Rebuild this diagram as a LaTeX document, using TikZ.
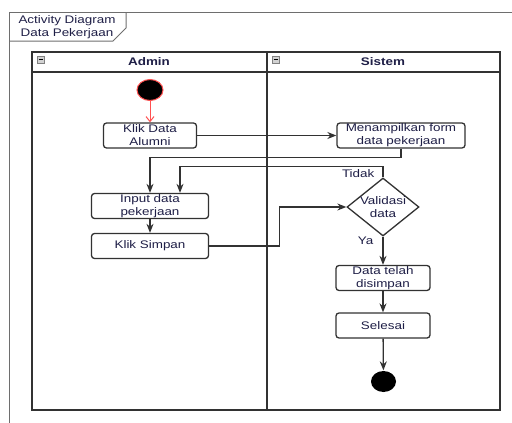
\documentclass[tikz,border=0pt]{standalone}
\usepackage{fontspec}
\setmainfont[FakeStretch=1.22]{Liberation Sans}
\usetikzlibrary{arrows.meta,shapes.geometric}

\definecolor{garis}{RGB}{50,50,50}
\definecolor{bingkai}{RGB}{110,110,110}
\definecolor{teks}{RGB}{30,30,70}
\definecolor{merah}{RGB}{255,80,80}

\begin{document}
\begin{tikzpicture}[x=1pt,y=-1pt,>={Stealth[length=9pt,width=7pt]},font=\fontsize{11}{13}\selectfont,line width=1.3pt]
        \tikzstyle{aksi}=[draw=garis,fill=white,rounded corners=3pt,minimum height=25pt,inner sep=0pt,align=center,text=teks]
        \tikzstyle{panah}=[->,draw=garis]
        \tikzstyle{titik}=[ellipse,fill=black,inner sep=0pt]
        \tikzstyle{lbl}=[text=teks,inner sep=0pt]
        \useasboundingbox (0,0) rectangle (512,423);

        % frame dan tab judul
        \draw[bingkai,line width=1pt] (9,423) -- (9,12) -- (512,12);
        \draw[bingkai,line width=1pt] (9,41) -- (113,41) -- (126,28) -- (126,12);
        \node[lbl,align=center,font=\fontsize{11}{13}\selectfont] (judul) at (67,27) {Activity Diagram\\Data Pekerjaan};

        % swimlane
        \draw[garis,line width=1.4pt] (32,52) rectangle (500,410);
        \draw[garis,line width=1.4pt] (32,72) -- (500,72);
        \draw[garis,line width=1.4pt] (267,52) -- (267,410);
        \node[lbl,font=\fontsize{11}{13}\bfseries] (admin) at (149,62) {Admin};
        \node[lbl,font=\fontsize{11}{13}\bfseries] (sistem) at (383,62) {Sistem};
        \foreach \x in {37,272}{
            \draw[gray,fill=gray!35,line width=0.6pt] (\x,56) rectangle (\x+7,63);
            \draw[black,line width=0.9pt] (\x+1.5,59.5) -- (\x+5.5,59.5);
        }

        % node aktivitas
        \node[titik,draw=merah,line width=1pt,minimum width=26pt,minimum height=21pt] (mulai) at (150,90) {};
        \node[aksi,minimum width=93pt] (klik) at (150,135.5) {Klik Data\\Alumni};
        \node[aksi,minimum width=128pt] (tampil) at (401,135.5) {Menampilkan form\\data pekerjaan};
        \node[aksi,minimum width=117pt] (input) at (150,206) {Input data\\pekerjaan};
        \node[aksi,minimum width=117pt] (simpan) at (150,246) {Klik Simpan};
        \node[diamond,draw=garis,fill=white,minimum width=72pt,minimum height=58pt,inner sep=0pt,
              label={[lbl,align=center]center:Validasi\\data}] (validasi) at (383,207) {};
        \node[aksi,minimum width=94pt] (disimpan) at (383,278) {Data telah\\disimpan};
        \node[aksi,minimum width=94pt] (selesai) at (383,325.5) {Selesai};
        \node[titik,minimum width=25pt,minimum height=21pt] (akhir) at (383.5,381.5) {};

        % alur
        \draw[->,merah,line width=1pt,>={Straight Barb[length=5pt,width=8pt]}] (mulai) -- (klik);
        \draw[panah] (klik) -- (tampil);
        \draw[panah] (tampil.south) -- ++(0,9) -| (input.north);
        \draw[panah] (validasi.north) -- node[lbl,pos=0.3,left=8pt] {Tidak} ++(0,-11) -| ([xshift=30pt]input.north);
        \draw[panah] (input) -- (simpan);
        \draw[panah] (simpan.east) -- ++(70,0) |- (validasi.west);
        \draw[panah] (validasi) -- node[lbl,pos=0.15,left=9pt] {Ya} (disimpan);
        \draw[panah] (disimpan) -- (selesai);
        \draw[panah] (selesai) -- (akhir);
    \end{tikzpicture}
\end{document}
